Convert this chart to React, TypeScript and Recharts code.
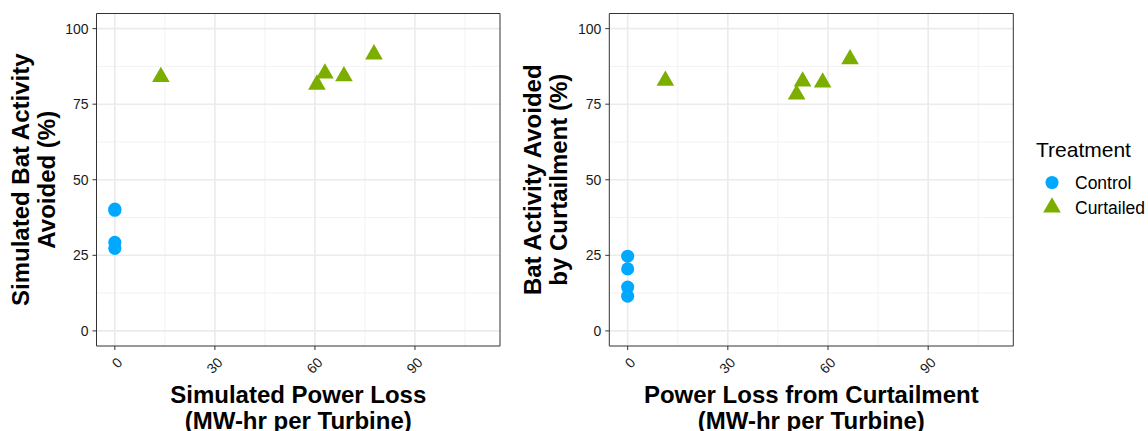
import React from 'react';
import {
  ScatterChart, Scatter, XAxis, YAxis, CartesianGrid, ReferenceArea, Label, Symbols,
} from 'recharts';

const TREATMENTS = ['Control', 'Curtailed'];
const COLORS = ['#00A9FF', '#7CAE00'];
const SHAPES: ('circle' | 'triangle')[] = ['circle', 'triangle'];
const POINT_SIZE = 135;

// left panel: simulated
const SIM_CONTROL_LOSS = [0, 0, 0, 0];
const SIM_CONTROL_AVOIDED = [40.3, 39.9, 29.3, 27.3];
const SIM_CURTAILED_LOSS = [13.8, 60.6, 63.0, 68.7, 77.7];
const SIM_CURTAILED_AVOIDED = [84.0, 81.5, 85.2, 84.3, 91.5];

// right panel: from curtailment
const OBS_CONTROL_LOSS = [0, 0, 0, 0];
const OBS_CONTROL_AVOIDED = [24.7, 20.5, 14.5, 11.5];
const OBS_CURTAILED_LOSS = [11.3, 50.6, 52.4, 58.4, 66.6];
const OBS_CURTAILED_AVOIDED = [82.8, 78.2, 82.5, 82.2, 89.9];

const X_TICKS = [0, 30, 60, 90];
const X_MINOR = [15, 45, 75, 105];
const Y_TICKS = [0, 25, 50, 75, 100];
const Y_MINOR = [12.5, 37.5, 62.5, 87.5];

const X_DOMAIN = [-5.5, 115.5];
const Y_DOMAIN = [-5, 105];

const toPoints = (xs: number[], ys: number[]) => xs.map((loss, i) => ({ loss, avoided: ys[i] }));

const FONT = '"Liberation Sans", Arial, sans-serif';

const pointShape = (idx: number) => (props: any) => (
  <Symbols
    type={SHAPES[idx]}
    size={POINT_SIZE}
    cx={props.cx}
    cy={props.cy}
    fill={COLORS[idx]}
  />
);

const AngledTick = ({ x, y, payload }: any) => (
  <g transform={`translate(${x + 1.5},${y + 4.5})`}>
    <text transform="rotate(-45)" textAnchor="end" dy="0.71em" fontSize={14} fill="#1a1a1a">
      {payload.value}
    </text>
  </g>
);

const xTitle = (lines: string[]) => (props: any) => {
  const { x, y, width } = props.viewBox;
  const cx = x + width / 2;
  return (
    <text textAnchor="middle" fontSize={24} fontWeight="bold" fill="#000">
      <tspan x={cx} y={y + 57}>{lines[0]}</tspan>
      <tspan x={cx} y={y + 82.5}>{lines[1]}</tspan>
    </text>
  );
};

const yTitle = (lines: string[]) => (props: any) => {
  const { x, y, width, height } = props.viewBox;
  const left = x + width;
  const cy = y + height / 2;
  return (
    <g>
      {lines.map((line, i) => {
        const bx = left - 68 + i * 26;
        return (
          <text
            key={line}
            x={bx}
            y={cy}
            transform={`rotate(-90, ${bx}, ${cy})`}
            textAnchor="middle"
            fontSize={24}
            fontWeight="bold"
            fill="#000"
          >
            {line}
          </text>
        );
      })}
    </g>
  );
};

interface PanelProps {
  left: number;
  width: number;
  marginLeft: number;
  marginRight: number;
  control: { loss: number; avoided: number }[];
  curtailed: { loss: number; avoided: number }[];
  xLines: string[];
  yLines: string[];
}

function Panel({
  left, width, marginLeft, marginRight, control, curtailed, xLines, yLines,
}: PanelProps) {
  return (
    <div style={{ position: 'absolute', left, top: 0 }}>
      <ScatterChart
        width={width}
        height={431}
        margin={{ top: 13.5, right: marginRight, bottom: 0, left: marginLeft }}
      >
        <CartesianGrid
          horizontalValues={Y_MINOR}
          verticalValues={X_MINOR}
          stroke="#F2F2F2"
          strokeWidth={1}
        />
        <CartesianGrid
          horizontalValues={Y_TICKS}
          verticalValues={X_TICKS}
          stroke="#EBEBEB"
          strokeWidth={1.6}
        />
        <XAxis
          dataKey="loss"
          type="number"
          domain={X_DOMAIN}
          ticks={X_TICKS}
          interval={0}
          allowDataOverflow
          height={85}
          axisLine={false}
          tickSize={4}
          tickMargin={2}
          tickLine={{ stroke: '#333' }}
          tick={<AngledTick />}
        >
          <Label content={xTitle(xLines)} />
        </XAxis>
        <YAxis
          dataKey="avoided"
          type="number"
          domain={Y_DOMAIN}
          ticks={Y_TICKS}
          interval={0}
          allowDataOverflow
          width={30}
          axisLine={false}
          tickSize={4}
          tickMargin={4}
          tickLine={{ stroke: '#333' }}
          tick={{ fontSize: 14, fill: '#1a1a1a' }}
        >
          <Label content={yTitle(yLines)} />
        </YAxis>
        <Scatter
          name={TREATMENTS[0]}
          data={control}
          shape={pointShape(0)}
          fill={COLORS[0]}
          isAnimationActive={false}
        />
        <Scatter
          name={TREATMENTS[1]}
          data={curtailed}
          shape={pointShape(1)}
          fill={COLORS[1]}
          isAnimationActive={false}
        />
        <ReferenceArea
          x1={X_DOMAIN[0]}
          x2={X_DOMAIN[1]}
          y1={Y_DOMAIN[0]}
          y2={Y_DOMAIN[1]}
          fill="none"
          stroke="#333"
          strokeWidth={1}
        />
      </ScatterChart>
    </div>
  );
}

function TreatmentLegend() {
  return (
    <svg
      width={128}
      height={100}
      style={{ position: 'absolute', left: 1020, top: 130 }}
    >
      <text x={16} y={27} fontSize={21} fill="#000">Treatment</text>
      <Symbols type="circle" size={POINT_SIZE} cx={32} cy={52.5} fill={COLORS[0]} />
      <text x={55} y={58.5} fontSize={17.5} fill="#000">{TREATMENTS[0]}</text>
      <Symbols type="triangle" size={POINT_SIZE} cx={32} cy={77.5} fill={COLORS[1]} />
      <text x={55} y={83.5} fontSize={17.5} fill="#000">{TREATMENTS[1]}</text>
    </svg>
  );
}

export default function App() {
  return (
    <div
      style={{
        position: 'absolute',
        left: 0,
        top: 0,
        width: 1148,
        height: 431,
        background: '#fff',
        fontFamily: FONT,
        overflow: 'hidden',
      }}
    >
      <Panel
        left={0}
        width={520}
        marginLeft={66.5}
        marginRight={20}
        control={toPoints(SIM_CONTROL_LOSS, SIM_CONTROL_AVOIDED)}
        curtailed={toPoints(SIM_CURTAILED_LOSS, SIM_CURTAILED_AVOIDED)}
        xLines={['Simulated Power Loss', '(MW-hr per Turbine)']}
        yLines={['Simulated Bat Activity', 'Avoided (%)']}
      />
      <Panel
        left={520}
        width={500}
        marginLeft={59.3}
        marginRight={6.7}
        control={toPoints(OBS_CONTROL_LOSS, OBS_CONTROL_AVOIDED)}
        curtailed={toPoints(OBS_CURTAILED_LOSS, OBS_CURTAILED_AVOIDED)}
        xLines={['Power Loss from Curtailment', '(MW-hr per Turbine)']}
        yLines={['Bat Activity Avoided', 'by Curtailment (%)']}
      />
      <TreatmentLegend />
    </div>
  );
}
